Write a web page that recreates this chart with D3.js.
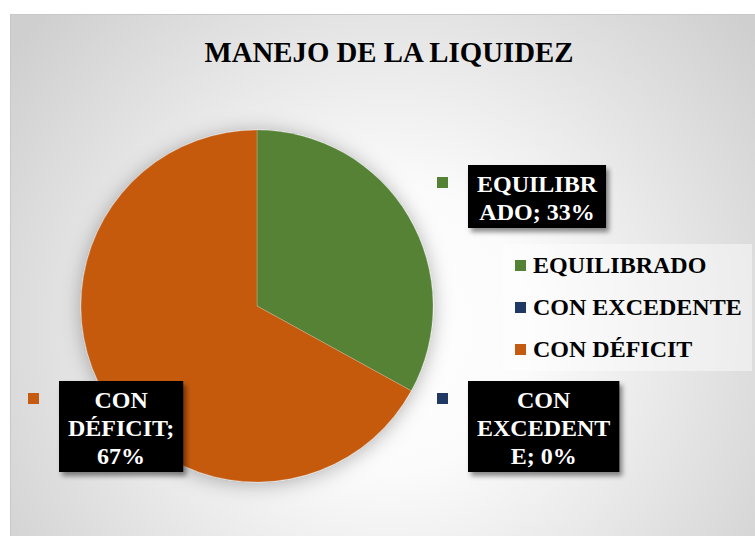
<!DOCTYPE html>
<html>
<head>
<meta charset="utf-8">
<script src="https://cdn.jsdelivr.net/npm/d3@7"></script>
<style>
  body { margin: 0; background: #fff; }
  svg text { font-family: "Liberation Serif", "DejaVu Serif", serif; font-weight: bold; }
</style>
</head>
<body>
<svg class="chart"></svg>
<script>
var title = 'MANEJO DE LA LIQUIDEZ';
var categories = ['EQUILIBRADO', 'CON EXCEDENTE', 'CON DÉFICIT'];
var values = [33, 0, 67];
var colors = ['#548235', '#1F3864', '#C55A11'];

var settings = {
  width: 755,
  height: 536,
  cx: 257,
  cy: 306,
  radius: 176,
  fontSize: 24,
  lineHeight: 28,
  wrapChars: 8
};

// where each data label box sits (top-left corner)
var labelPos = [
  { x: 468, y: 165 },
  { x: 468, y: 381 },
  { x: 59, y: 381 }
];

var svg = d3.select('.chart')
  .attr('width', settings.width)
  .attr('height', settings.height);

var defs = svg.append('defs');

var grad = defs.append('radialGradient')
  .attr('id', 'bg')
  .attr('gradientUnits', 'userSpaceOnUse')
  .attr('cx', 390).attr('cy', 330).attr('r', 470);
grad.append('stop').attr('offset', '0%').attr('stop-color', '#ffffff');
grad.append('stop').attr('offset', '30%').attr('stop-color', '#fbfbfb');
grad.append('stop').attr('offset', '100%').attr('stop-color', '#cfcfcf');

var glow = defs.append('filter').attr('id', 'glow')
  .attr('x', '-20%').attr('y', '-20%').attr('width', '140%').attr('height', '140%');
glow.append('feDropShadow')
  .attr('dx', 0).attr('dy', 2).attr('stdDeviation', 10)
  .attr('flood-color', '#000').attr('flood-opacity', 0.3);

var boxShadow = defs.append('filter').attr('id', 'boxShadow')
  .attr('x', '-20%').attr('y', '-20%').attr('width', '140%').attr('height', '140%');
boxShadow.append('feDropShadow')
  .attr('dx', 3).attr('dy', 4).attr('stdDeviation', 2.5)
  .attr('flood-color', '#000').attr('flood-opacity', 0.45);

// chart area
svg.append('rect')
  .attr('x', 10).attr('y', 14)
  .attr('width', settings.width - 10).attr('height', settings.height - 14)
  .attr('fill', 'url(#bg)');
svg.append('line')
  .attr('x1', 10).attr('y1', 14.5).attr('x2', settings.width).attr('y2', 14.5)
  .attr('stroke', '#c8c8c8');
svg.append('line')
  .attr('x1', 10.5).attr('y1', 14).attr('x2', 10.5).attr('y2', settings.height)
  .attr('stroke', '#c8c8c8');

svg.append('text')
  .attr('x', 389).attr('y', 62)
  .attr('text-anchor', 'middle')
  .attr('font-size', 28.8)
  .attr('fill', '#000')
  .text(title);

// pie
var pie = d3.pie().sort(null).value(function(d) { return d; });
var arcs = pie(values);
var arc = d3.arc().innerRadius(0).outerRadius(settings.radius);
var total = d3.sum(values);
var pct = d3.format('.0%');

var pieG = svg.append('g')
  .attr('transform', 'translate(' + settings.cx + ',' + settings.cy + ')')
  .attr('filter', 'url(#glow)');
pieG.selectAll('path')
  .data(arcs)
  .enter()
  .append('path')
  .attr('d', arc)
  .attr('fill', function(d, i) { return colors[i]; })
  .attr('stroke', function(d) { return d.value > 0 ? '#fff' : 'none'; })
  .attr('stroke-width', 0.5)
  .attr('stroke-opacity', 0.4);

// wrap label text roughly like excel does
function wrap(str, max) {
  var words = str.split(' ');
  var lines = [];
  var cur = '';
  words.forEach(function(w) {
    var test = cur ? cur + ' ' + w : w;
    if (test.length <= max) { cur = test; return; }
    if (cur) { lines.push(cur); }
    while (w.length > max) {
      lines.push(w.slice(0, max));
      w = w.slice(max);
    }
    cur = w;
  });
  if (cur) lines.push(cur);
  return lines;
}

// data labels
categories.forEach(function(cat, i) {
  var lines = wrap(cat + '; ' + pct(values[i] / total), settings.wrapChars);
  var p = labelPos[i];
  var g = svg.append('g');

  g.append('rect')
    .attr('x', p.x - 31).attr('y', p.y + 12)
    .attr('width', 11).attr('height', 11)
    .attr('fill', colors[i]);

  var box = g.append('rect')
    .attr('x', p.x).attr('y', p.y)
    .attr('height', lines.length * settings.lineHeight + 7)
    .attr('fill', '#000')
    .attr('filter', 'url(#boxShadow)');

  var txt = g.append('text')
    .attr('text-anchor', 'middle')
    .attr('font-size', settings.fontSize)
    .attr('fill', '#fff');
  txt.selectAll('tspan')
    .data(lines)
    .enter()
    .append('tspan')
    .attr('y', function(d, j) { return p.y + 27 + j * settings.lineHeight; })
    .text(function(d) { return d; });

  var w = 0;
  txt.selectAll('tspan').each(function() {
    w = Math.max(w, this.getComputedTextLength());
  });
  var bw = w + 18;
  box.attr('width', bw);
  txt.selectAll('tspan').attr('x', p.x + bw / 2);
});

// legend
var legend = svg.append('g');
legend.append('rect')
  .attr('x', 503).attr('y', 244)
  .attr('width', 249).attr('height', 127)
  .attr('fill', '#fff').attr('fill-opacity', 0.45);

var items = legend.selectAll('g.item')
  .data(categories)
  .enter()
  .append('g')
  .attr('class', 'item')
  .attr('transform', function(d, i) { return 'translate(515,' + (273 + i * 42) + ')'; });
items.append('rect')
  .attr('x', 0).attr('y', -13)
  .attr('width', 11).attr('height', 11)
  .attr('fill', function(d, i) { return colors[i]; });
items.append('text')
  .attr('x', 18).attr('y', 0)
  .attr('font-size', settings.fontSize)
  .attr('fill', '#000')
  .text(function(d) { return d; });
</script>
</body>
</html>
